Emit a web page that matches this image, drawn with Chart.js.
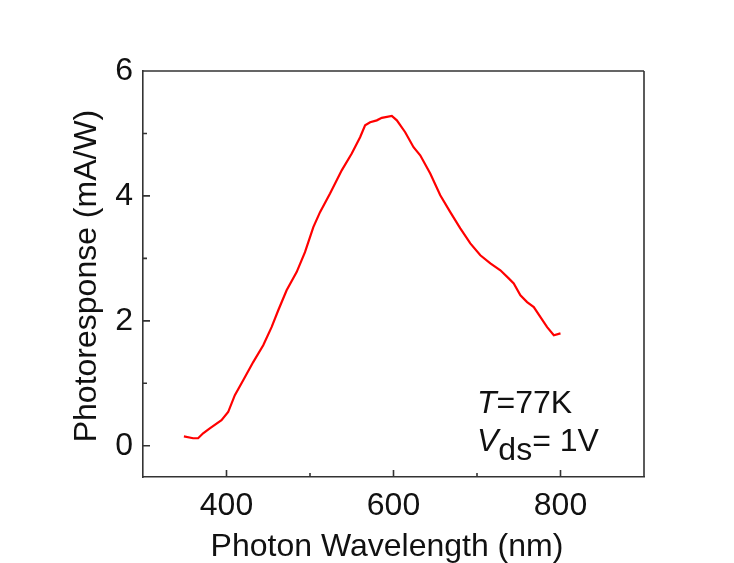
<!DOCTYPE html>
<html>
<head>
<meta charset="utf-8">
<script src="https://cdn.jsdelivr.net/npm/chart.js@4.4.1/dist/chart.umd.min.js"></script>
<style>
  html, body { margin: 0; padding: 0; background: #ffffff; }
  #wrap { width: 734px; height: 563px; }
</style>
</head>
<body>
<div id="wrap"><canvas id="c" width="734" height="563"></canvas></div>
<script>
// Data
const wavelength = [349, 360, 366, 372, 380, 394, 402, 410, 420, 432, 444, 454, 462, 472, 484, 494, 504, 512, 524, 538, 550, 560, 566, 572, 580, 586, 598, 604, 614, 624, 632, 644, 656, 668, 680, 692, 704, 716, 728, 738, 744, 752, 760, 768, 776, 784, 792, 800];
const photoresponse = [0.15, 0.12, 0.12, 0.20, 0.28, 0.41, 0.54, 0.81, 1.05, 1.34, 1.61, 1.90, 2.17, 2.49, 2.78, 3.10, 3.50, 3.74, 4.04, 4.41, 4.68, 4.94, 5.13, 5.18, 5.21, 5.25, 5.28, 5.21, 5.02, 4.78, 4.65, 4.36, 4.01, 3.74, 3.48, 3.24, 3.05, 2.92, 2.81, 2.68, 2.60, 2.41, 2.30, 2.22, 2.06, 1.90, 1.77, 1.80];
const xMajorTicks = [400, 600, 800];
const xMinorTicks = [500, 700];
const yMajorTicks = [0, 2, 4, 6];
const yMinorTicks = [1, 3, 5];
const xTitle = 'Photon Wavelength (nm)';
const yTitle = 'Photoresponse (mA/W)';

const points = wavelength.map((w, i) => ({ x: w, y: photoresponse[i] }));
const AXIS = '#333333';
const TEXT = '#111111';
const FONT = '"Liberation Sans", Arial, sans-serif';

const framePlugin = {
  id: 'frame',
  afterDraw(chart) {
    const ctx = chart.ctx;
    const a = chart.chartArea;
    const xs = chart.scales.x, ys = chart.scales.y;
    ctx.save();
    ctx.strokeStyle = AXIS;
    ctx.lineWidth = 1.6;
    ctx.beginPath();
    ctx.moveTo(a.left, a.top); ctx.lineTo(a.right, a.top);
    ctx.moveTo(a.right, a.top); ctx.lineTo(a.right, a.bottom);
    // inward ticks
    xMajorTicks.forEach(v => { const p = xs.getPixelForValue(v); ctx.moveTo(p, a.bottom); ctx.lineTo(p, a.bottom - 7); });
    xMinorTicks.forEach(v => { const p = xs.getPixelForValue(v); ctx.moveTo(p, a.bottom); ctx.lineTo(p, a.bottom - 4); });
    yMajorTicks.forEach(v => { const p = ys.getPixelForValue(v); ctx.moveTo(a.left, p); ctx.lineTo(a.left + 7, p); });
    yMinorTicks.forEach(v => { const p = ys.getPixelForValue(v); ctx.moveTo(a.left, p); ctx.lineTo(a.left + 4, p); });
    ctx.stroke();

    // axis titles
    ctx.fillStyle = TEXT;
    ctx.font = '32px ' + FONT;
    ctx.textAlign = 'center';
    ctx.textBaseline = 'alphabetic';
    ctx.fillText(xTitle, 387, 556);
    ctx.save();
    ctx.translate(96, 276);
    ctx.rotate(-Math.PI / 2);
    ctx.fillText(yTitle, 0, 0);
    ctx.restore();

    // annotation
    const ax = xs.getPixelForValue(700);
    ctx.textAlign = 'left';
    ctx.font = 'italic 32px ' + FONT;
    const b1 = ys.getPixelForValue(0.52);
    ctx.fillText('T', ax, b1);
    let w = ctx.measureText('T').width;
    ctx.font = '32px ' + FONT;
    ctx.fillText('=77K', ax + w, b1);
    const b2 = ys.getPixelForValue(-0.09);
    ctx.font = 'italic 32px ' + FONT;
    ctx.fillText('V', ax, b2);
    w = ctx.measureText('V').width;
    ctx.font = '32px ' + FONT;
    ctx.fillText('ds', ax + w, b2 + 9);
    const w2 = ctx.measureText('ds').width;
    ctx.fillText('= 1V', ax + w + w2, b2);
    ctx.restore();
  }
};

new Chart(document.getElementById('c'), {
  type: 'line',
  data: {
    datasets: [{
      data: points,
      borderColor: '#ff0000',
      borderWidth: 2.2,
      pointRadius: 0,
      tension: 0,
      fill: false
    }]
  },
  options: {
    responsive: false,
    animation: false,
    layout: { padding: { left: 0, top: 71, right: 90, bottom: 0 } },
    plugins: { legend: { display: false }, tooltip: { enabled: false } },
    scales: {
      x: {
        type: 'linear', min: 300, max: 900,
        afterBuildTicks: s => { s.ticks = xMajorTicks.map(v => ({ value: v })); },
        afterFit: s => { s.height = 86; },
        grid: { display: false },
        border: { display: true, color: AXIS, width: 1.6 },
        ticks: { color: TEXT, font: { family: FONT, size: 32 }, padding: 2, maxRotation: 0 }
      },
      y: {
        type: 'linear', min: -0.5, max: 6,
        afterBuildTicks: s => { s.ticks = yMajorTicks.map(v => ({ value: v })); },
        afterFit: s => { s.width = 143; },
        grid: { display: false },
        border: { display: true, color: AXIS, width: 1.6 },
        ticks: { color: TEXT, font: { family: FONT, size: 32 }, padding: 2 }
      }
    }
  },
  plugins: [framePlugin]
});
</script>
</body>
</html>
